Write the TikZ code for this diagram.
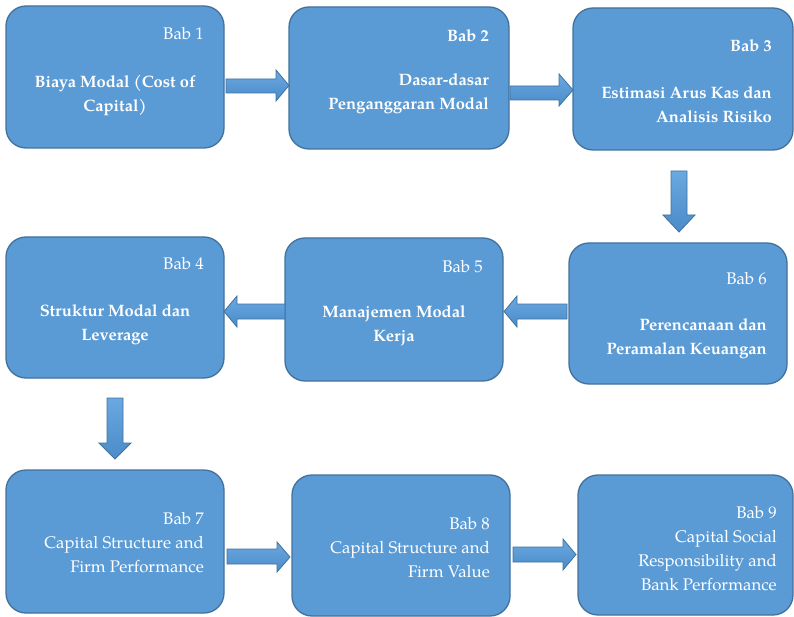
\documentclass[tikz,border=0pt]{standalone}
\usepackage{fontspec}
\setmainfont{TeX Gyre Pagella}
\usetikzlibrary{calc}
\definecolor{boxfill}{HTML}{5B9BD5}
\definecolor{boxline}{HTML}{41719C}
\definecolor{arrtop}{HTML}{6AA8E0}
\definecolor{arrbot}{HTML}{4A8BC9}
\tikzset{
  chapbox/.style={draw=boxline, line width=1.3pt, fill=boxfill, rounded corners=20pt},
  blockarrow/.style={draw=boxline, line width=0.8pt, top color=arrtop, bottom color=arrbot, line join=miter},
  txt/.style={text=white, font=\fontsize{16.8}{24}\selectfont, inner sep=0pt},
  btxt/.style={txt, font=\bfseries\fontsize{16.5}{24}\selectfont}
}
\begin{document}
\begin{tikzpicture}[x=1pt,y=-1pt]
\useasboundingbox (0,0) rectangle (794,617);
% boxes
\path[chapbox] (6,6) rectangle (224,148);
\path[chapbox] (289,7) rectangle (509,149);
\path[chapbox] (573,8) rectangle (793,150);
\path[chapbox] (6,237) rectangle (224,378);
\path[chapbox] (285,238) rectangle (503,381);
\path[chapbox] (569,243) rectangle (787,384);
\path[chapbox] (6,470) rectangle (224,613);
\path[chapbox] (292,475) rectangle (510,616);
\path[chapbox] (578,475) rectangle (793,615);
% arrows
\path[blockarrow] (226,79) -- (276,79) -- (276,70) -- (289,85.5) -- (276,101) -- (276,93) -- (226,93) -- cycle;
\path[blockarrow] (510,86) -- (559,86) -- (559,74) -- (573,90) -- (559,106) -- (559,100) -- (510,100) -- cycle;
\path[blockarrow] (671,171) -- (687,171) -- (687,215) -- (695,215) -- (679,232) -- (663,215) -- (671,215) -- cycle;
\path[blockarrow] (567,304) -- (517,304) -- (517,296) -- (504,311.5) -- (517,327) -- (517,319) -- (567,319) -- cycle;
\path[blockarrow] (285,304) -- (237,304) -- (237,296) -- (224,311.5) -- (237,327) -- (237,319) -- (285,319) -- cycle;
\path[blockarrow] (107,398) -- (123,398) -- (123,443) -- (131,443) -- (115,459) -- (99,443) -- (107,443) -- cycle;
\path[blockarrow] (227,549) -- (277,549) -- (277,542) -- (290,557) -- (277,572) -- (277,564) -- (227,564) -- cycle;
\path[blockarrow] (513,547) -- (563,547) -- (563,539) -- (576,554.5) -- (563,570) -- (563,562) -- (513,562) -- cycle;
% texts
\node[txt, anchor=east] (t1a) at (204,34) {Bab 1};
\node[btxt, align=center] (t1b) at (115,95) {Biaya Modal (Cost of\\Capital)};
\node[btxt, anchor=east] (t2a) at (489,36) {Bab 2};
\node[btxt, align=right, anchor=east] (t2b) at (489,94) {Dasar-dasar\\Penganggaran Modal};
\node[btxt, anchor=east] (t3a) at (772,46) {Bab 3};
\node[btxt, align=right, anchor=east] (t3b) at (772,105) {Estimasi Arus Kas dan\\Analisis Risiko};
\node[txt, anchor=east] (t4a) at (204,264) {Bab 4};
\node[btxt, align=center] (t4b) at (115,325) {Struktur Modal dan\\Leverage};
\node[txt, anchor=east] (t5a) at (483,267) {Bab 5};
\node[btxt, align=center] (t5b) at (394,326) {Manajemen Modal\\Kerja};
\node[txt, anchor=east] (t6a) at (767,279) {Bab 6};
\node[btxt, align=right, anchor=east] (t6b) at (767,339) {Perencanaan dan\\Peramalan Keuangan};
\node[txt, align=right, anchor=east] (t7) at (204,543) {Bab 7\\Capital Structure and\\Firm Performance};
\node[txt, align=right, anchor=east] (t8) at (490,548) {Bab 8\\Capital Structure and\\Firm Value};
\node[txt, align=right, anchor=east] (t9) at (777,549) {Bab 9\\Capital Social\\Responsibility and\\Bank Performance};
\end{tikzpicture}
\end{document}
